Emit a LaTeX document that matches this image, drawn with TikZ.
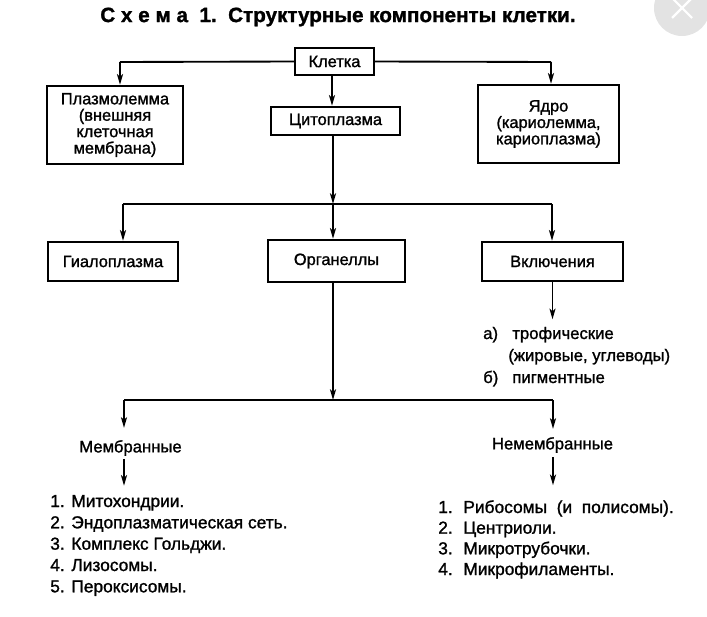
\documentclass[tikz,border=0pt]{standalone}
\usepackage{fontspec}
\setmainfont{Liberation Sans}[FakeBold=1.3]
\usetikzlibrary{arrows.meta,calc}
\begin{document}
\begin{tikzpicture}[x=0.75pt,y=-0.75pt,
  cbox/.style 2 args={draw, line width=1.8pt, minimum width=#1*0.75pt, minimum height=#2*0.75pt,
    inner sep=0pt, align=center, font=\fontsize{12.3}{12.3}\selectfont},
  conn/.style={line width=1.4pt},
  arr/.style={conn, -{Stealth[length=8pt,width=4.5pt,inset=2pt]}},
  lbl/.style={inner sep=0pt, font=\fontsize{12.5}{12.5}\selectfont},
  lst/.style={inner sep=0pt, anchor=base west, align=left}]
\useasboundingbox (0,0) rectangle (707,617);

% screenshot close button
\fill[gray!22] (682,8) circle [radius=21pt];
\draw[white, line width=1.6pt] (672,-2) -- (692,18) (692,-2) -- (672,18);

% title
\node[inner sep=0pt, font=\fontsize{15.5}{17}\selectfont\bfseries] (title) at (338,17)
  {С х е м а\ \ 1.\ \ Структурные компоненты клетки.};

% boxes
\node[cbox={79}{27}] (klet) at (334.5,61.5) {Клетка};
\node[cbox={136}{78}] (plasma) at (115,125) {Плазмолемма\\(внешняя\\клеточная\\мембрана)};
\node[cbox={129}{28}] (cyto) at (335.5,121) {Цитоплазма};
\node[cbox={141}{78}] (yadro) at (548.5,124) {Ядро\\(кариолемма,\\кариоплазма)};
\node[cbox={130}{39}] (gialo) at (113,261.5) {Гиалоплазма};
\node[cbox={137}{42}] (organ) at (336.5,261) {Органеллы};
\node[cbox={141}{39}] (vkl) at (552.5,261.5) {Включения};

% inclusions text
\node[lst, font=\fontsize{12.5}{16.5}\selectfont] (troph) at (483,339)
  {\begin{tabular}[t]{@{}l@{\hspace{10.5pt}}l@{}}
   а) & трофические\\
      & \kern-3pt(жировые, углеводы)\\
   б) & пигментные
   \end{tabular}};

% organelle groups
\node[lbl] (memb) at (130.5,448) {Мембранные};
\node[lbl] (nemb) at (552.5,445) {Немембранные};

\node[lst, font=\fontsize{13}{16}\selectfont] (listL) at (50,507)
  {\begin{tabular}[t]{@{}l@{\hspace{5pt}}l@{}}
   1. & Митохондрии.\\
   2. & Эндоплазматическая сеть.\\
   3. & Комплекс Гольджи.\\
   4. & Лизосомы.\\
   5. & Пероксисомы.
   \end{tabular}};
\node[lst, font=\fontsize{13}{15.5}\selectfont] (listR) at (438,513)
  {\begin{tabular}[t]{@{}l@{\hspace{8pt}}l@{}}
   1. & Рибосомы\ \ (и\ \ полисомы).\\
   2. & Центриоли.\\
   3. & Микротрубочки.\\
   4. & Микрофиламенты.
   \end{tabular}};

% junction coordinates
\coordinate (j1) at (333,204);
\coordinate (jL) at (123,204);
\coordinate (jR) at (552,204);
\coordinate (j2) at (333,400);
\coordinate (j2L) at (124,400);
\coordinate (j2R) at (553,400);
\coordinate (kL) at (120,62);
\coordinate (kR) at (551,62);
\coordinate (kD) at (332,75);

% connectors from Клетка
\draw[conn] (klet.west) -- (kL);
\draw[arr] (kL) -- (kL |- plasma.north);
\draw[conn] (klet.east) -- (kR);
\draw[arr] (kR) -- (kR |- yadro.north);
\draw[arr] (kD) -- (kD |- cyto.north);

% from Цитоплазма
\draw[arr] (cyto.south -| j1) -- (j1);
\draw[conn] (jL) -- (jR);
\draw[arr] (jL) -- (jL |- gialo.north);
\draw[arr] (j1) -- (j1 |- organ.north);
\draw[arr] (jR) -- (jR |- vkl.north);

% from Включения
\draw[arr] (vkl.south) -- ($(troph.north -| vkl.south)+(0,-4)$);

% from Органеллы
\draw[arr] (organ.south -| j2) -- (j2);
\draw[conn] (j2L) -- (j2R);
\draw[arr] (j2L) -- ($(memb.north -| j2L)+(0,-12)$);
\draw[arr] (j2R) -- ($(nemb.north -| j2R)+(0,-8)$);
\draw[arr] ($(memb.south -| j2L)+(0,3)$) -- ($(listL.north -| j2L)+(0,-6)$);
\draw[arr] ($(nemb.south -| j2R)+(0,4)$) -- ($(listR.north -| j2R)+(0,-13)$);
\end{tikzpicture}
\end{document}
